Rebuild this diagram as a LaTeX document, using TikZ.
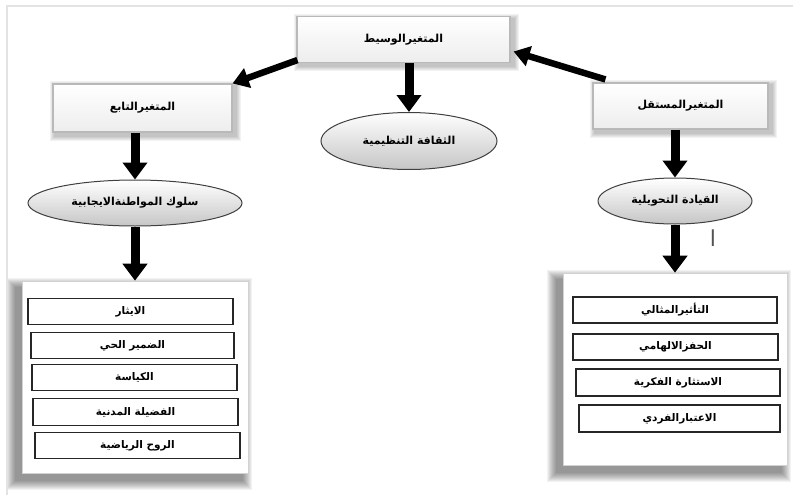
\documentclass[tikz,border=0pt]{standalone}
\usepackage{fontspec}
\newfontfamily\arfont[Script=Arabic]{DejaVu Sans}
\TeXXeTstate=1
\usetikzlibrary{arrows.meta,shapes.geometric}
\pgfdeclarelayer{background}
\pgfsetlayers{background,main}
\newcommand\artxt[1]{{\arfont\beginR #1\endR}}
\begin{document}
\begin{tikzpicture}[x=1pt,y=-1pt,
  varbox/.style={draw=gray!55, line width=1.1pt, top color=white, bottom color=gray!14,
    minimum width=#1, minimum height=46pt, inner sep=0pt,
    font=\bfseries\fontsize{11}{13}\selectfont},
  oval/.style={ellipse, draw=black!75, line width=1pt, top color=white, middle color=white,
    bottom color=gray!45, minimum width=#1, minimum height=46pt, inner sep=0pt,
    font=\bfseries\fontsize{11}{13}\selectfont},
  panel/.style={draw=gray!35, line width=0.6pt, fill=white, minimum width=#1,
    minimum height=192pt, inner sep=0pt},
  item/.style={draw=black!85, line width=1.3pt, fill=white, minimum width=#1,
    minimum height=26pt, inner sep=0pt, font=\bfseries\fontsize{10.5}{12}\selectfont},
  bigarrow/.style={line width=9pt, -{Triangle[length=17pt,width=24pt]}},
  diagarrow/.style={line width=6.5pt, -{Triangle[length=16pt,width=20pt]}}]
\useasboundingbox (0,0) rectangle (794,495);
\draw[gray!22, line width=1.2pt] (7,495) -- (7,6) -- (793,6);

% top boxes
\node[varbox=213pt] (med) at (403.5,39.5) {\artxt{المتغيرالوسيط}};
\node[varbox=179pt, minimum height=48pt] (dep) at (142.5,108) {\artxt{المتغيرالتابع}};
\node[varbox=175pt] (ind) at (680.5,106) {\artxt{المتغيرالمستقل}};

% ellipses
\node[oval=176pt, minimum height=57pt] (cult) at (409,141) {\artxt{الثقافة التنظيمية}};
\node[oval=214pt] (beh) at (135,203) {\artxt{سلوك المواطنةالايجابية}};
\node[oval=154pt] (lead) at (675,201) {\artxt{القيادة التحويلية}};

% panels
\node[panel=226pt] (lp) at (135,377) {};
\node[panel=224pt] (rp) at (675,369) {};

\node[item=205pt] (l1) at (130.5,311.5) {\artxt{الايثار}};
\node[item=203pt] (l2) at (132.5,345.5) {\artxt{الضمير الحي}};
\node[item=205pt] (l3) at (134.5,377.5) {\artxt{الكياسة}};
\node[item=205pt, minimum height=27pt] (l4) at (135.5,412) {\artxt{الفضيلة المدنية}};
\node[item=205pt] (l5) at (137.5,445.5) {\artxt{الروح الرياضية}};

\node[item=204pt] (r1) at (675,310) {\artxt{التأثيرالمثالي}};
\node[item=205pt] (r2) at (675.5,347) {\artxt{الحفزالالهامي}};
\node[item=204pt, minimum height=27pt] (r3) at (678,382.5) {\artxt{الاستثارة الفكرية}};
\node[item=201pt, minimum height=27pt] (r4) at (679.5,418.5) {\artxt{الاعتبارالفردي}};

\node[text=gray!65!black, font=\fontsize{22}{24}\selectfont] (mark) at (713,238) {\artxt{ا}};

% shadows
\begin{pgfonlayer}{background}
  \foreach \n/\dx/\dy/\r in {med/3/3/5, dep/3/3/5, ind/3/3/5, lp/-6/7/10, rp/-6/7/10} {
    \foreach \k in {1,...,\r} {
      \fill[black, opacity=0.05]
        ([shift={(\dx-\k,\dy-\k)}]\n.north west) rectangle ([shift={(\dx+\k,\dy+\k)}]\n.south east);
    }
  }
\end{pgfonlayer}

% connectors
\draw[bigarrow] (cult.north |- med.south) -- (cult.north);
\draw[bigarrow] (beh.north |- dep.south) -- (beh.north);
\draw[bigarrow] (lead.north |- ind.south) -- (lead.north);
\draw[bigarrow] (beh.south) -- (lp.north);
\draw[bigarrow] (lead.south) -- (rp.north);
\draw[diagarrow] ([shift={(1,-3)}]med.south west) -- (dep.north east);
\draw[diagarrow] ([shift={(13,-3)}]ind.north west) -- ([shift={(3,12)}]med.east);
\end{tikzpicture}
\end{document}
